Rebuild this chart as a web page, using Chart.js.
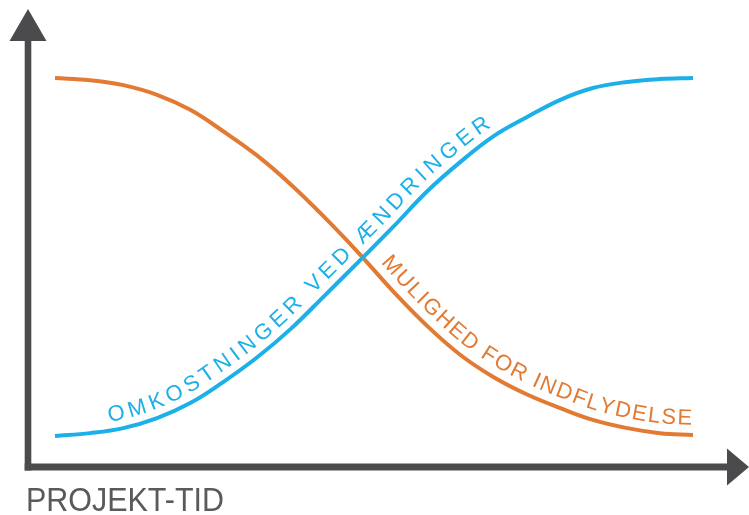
<!DOCTYPE html>
<html>
<head>
<meta charset="utf-8">
<script src="https://cdn.jsdelivr.net/npm/chart.js@4/dist/chart.umd.min.js"></script>
<style>
  html, body { margin: 0; padding: 0; background: #fff; }
  #wrap { width: 749px; height: 515px; position: relative; }
</style>
</head>
<body>
<div id="wrap"><canvas id="myChart"></canvas></div>
<script>
// project time (0..100) and the two curves
const timeX = [0, 5.5, 10.7, 16.0, 21.2, 26.3, 31.7, 37.0, 42.3, 47.6, 53.0, 58.3, 63.5, 68.7, 74.0, 79.2, 84.3, 89.7, 94.8, 100];
const costY = [0, 0.8, 2.2, 5.0, 9.2, 15.0, 22.0, 30.0, 39.3, 48.7, 58.4, 68.3, 76.5, 83.7, 89.1, 93.9, 97.2, 98.9, 99.7, 100];
const influenceY = [100, 99.4, 98.0, 95.3, 91.1, 85.2, 78.3, 70.2, 61.0, 51.1, 40.4, 30.8, 22.7, 16.5, 11.6, 7.8, 4.5, 2.2, 0.8, 0.3];

const costLabel = "OMKOSTNINGER VED ÆNDRINGER";
const influenceLabel = "MULIGHED FOR INDFLYDELSE";
const axisLabel = "PROJEKT-TID";

// where each label runs along its curve (in project time units)
const costLabelRange = [8.6, 69.3];
const influenceLabelRange = [49.8, 99.8];

const blue = "#1bb0e8";
const orange = "#e37a33";
const axisGray = "#4b4b4d";

function toPoints(xs, ys) {
    const pts = [];
    for (let i = 0; i < xs.length; i++) pts.push({x: xs[i], y: ys[i]});
    return pts;
}

// sample the drawn bezier path of a dataset
function curvePath(meta) {
    const pts = meta.data;
    const out = [];
    for (let i = 0; i < pts.length - 1; i++) {
        const a = pts[i], b = pts[i + 1];
        const c1x = a.cp2x ?? a.x, c1y = a.cp2y ?? a.y;
        const c2x = b.cp1x ?? b.x, c2y = b.cp1y ?? b.y;
        for (let s = 0; s < 24; s++) {
            const t = s / 24, u = 1 - t;
            out.push({
                x: u*u*u*a.x + 3*u*u*t*c1x + 3*u*t*t*c2x + t*t*t*b.x,
                y: u*u*u*a.y + 3*u*u*t*c1y + 3*u*t*t*c2y + t*t*t*b.y
            });
        }
    }
    const last = pts[pts.length - 1];
    out.push({x: last.x, y: last.y});
    return out;
}

function textOnCurve(ctx, chart, datasetIndex, text, range, offset, color) {
    const base = curvePath(chart.getDatasetMeta(datasetIndex));
    const x0 = chart.scales.x.getPixelForValue(range[0]);
    const x1 = chart.scales.x.getPixelForValue(range[1]);
    const path = [];
    for (let i = 0; i < base.length; i++) {
        if (base[i].x < x0 || base[i].x > x1) continue;
        const p = base[Math.max(0, i - 3)], q = base[Math.min(base.length - 1, i + 3)];
        let dx = q.x - p.x, dy = q.y - p.y;
        const len = Math.hypot(dx, dy) || 1;
        dx /= len; dy /= len;
        path.push({x: base[i].x + dy * offset, y: base[i].y - dx * offset});
    }
    const cum = [0];
    for (let i = 1; i < path.length; i++) {
        cum.push(cum[i - 1] + Math.hypot(path[i].x - path[i-1].x, path[i].y - path[i-1].y));
    }
    const total = cum[cum.length - 1];

    ctx.save();
    ctx.font = '22px "Liberation Sans", Arial, sans-serif';
    ctx.fillStyle = color;
    ctx.textAlign = "center";
    ctx.textBaseline = "alphabetic";
    const chars = Array.from(text);
    const widths = chars.map(c => ctx.measureText(c).width);
    const textW = widths.reduce((s, w) => s + w, 0);
    const gap = (total - textW) / (chars.length - 1);

    let d = 0;
    for (let k = 0; k < chars.length; k++) {
        const mid = d + widths[k] / 2;
        let j = 1;
        while (j < cum.length - 1 && cum[j] < mid) j++;
        const a = path[j - 1], b = path[j];
        const f = (mid - cum[j - 1]) / ((cum[j] - cum[j - 1]) || 1);
        const px = a.x + (b.x - a.x) * f, py = a.y + (b.y - a.y) * f;
        const lo = path[Math.max(0, j - 4)], hi = path[Math.min(path.length - 1, j + 3)];
        ctx.save();
        ctx.translate(px, py);
        ctx.rotate(Math.atan2(hi.y - lo.y, hi.x - lo.x));
        ctx.fillText(chars[k], 0, 0);
        ctx.restore();
        d += widths[k] + gap;
    }
    ctx.restore();
}

const arrowAxes = {
    id: "arrowAxes",
    afterDatasetsDraw(chart) {
        const ctx = chart.ctx;
        const area = chart.chartArea;
        const ax = area.left - 27;      // vertical axis
        const ay = area.bottom + 31;    // horizontal axis
        ctx.save();
        ctx.fillStyle = axisGray;
        ctx.fillRect(ax - 3.3, area.top - 38, 6.6, ay + 3.5 - (area.top - 38));
        ctx.fillRect(ax - 3.3, ay - 3.5, area.right + 34 - (ax - 3.3), 7);
        ctx.beginPath();
        ctx.moveTo(ax, area.top - 69);
        ctx.lineTo(ax + 18.5, area.top - 37);
        ctx.lineTo(ax - 18.5, area.top - 37);
        ctx.closePath();
        ctx.fill();
        ctx.beginPath();
        ctx.moveTo(area.right + 56, ay);
        ctx.lineTo(area.right + 34, ay - 18.5);
        ctx.lineTo(area.right + 34, ay + 18.5);
        ctx.closePath();
        ctx.fill();

        ctx.font = '33px "Liberation Sans", Arial, sans-serif';
        ctx.fillStyle = "#5a5a5c";
        ctx.textBaseline = "alphabetic";
        const w = ctx.measureText(axisLabel).width;
        ctx.translate(area.left - 29, area.bottom + 75);
        ctx.scale(198 / w, 1);
        ctx.fillText(axisLabel, 0, 0);
        ctx.restore();

        textOnCurve(ctx, chart, 0, costLabel, costLabelRange, 9, blue);
        textOnCurve(ctx, chart, 1, influenceLabel, influenceLabelRange, 10, orange);
    }
};

const myChartElement = document.getElementById("myChart");

new Chart(myChartElement, {
    type: "line",
    data: {
        datasets: [{
            label: costLabel,
            data: toPoints(timeX, costY),
            borderColor: blue,
            borderWidth: 4,
            pointRadius: 0,
            tension: 0.4,
            clip: false
        }, {
            label: influenceLabel,
            data: toPoints(timeX, influenceY),
            borderColor: orange,
            borderWidth: 4,
            pointRadius: 0,
            tension: 0.4,
            clip: false
        }]
    },
    options: {
        responsive: true,
        maintainAspectRatio: false,
        animation: false,
        events: [],
        layout: { padding: { left: 55, right: 56, top: 78, bottom: 79 } },
        scales: {
            x: { type: "linear", min: 0, max: 100, display: false },
            y: { min: 0, max: 100, display: false }
        },
        plugins: {
            legend: { display: false },
            tooltip: { enabled: false }
        }
    },
    plugins: [arrowAxes]
});
</script>
</body>
</html>
